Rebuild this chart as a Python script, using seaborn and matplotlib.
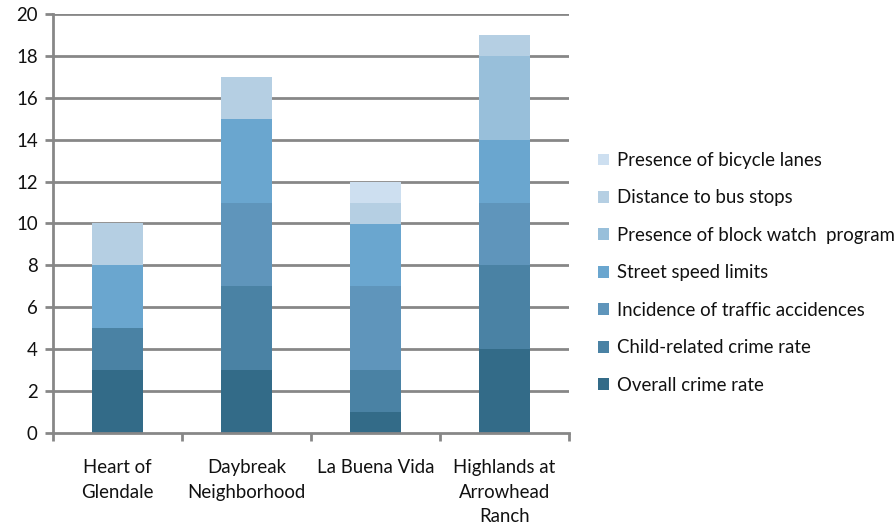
import matplotlib
matplotlib.use("Agg")
import matplotlib.pyplot as plt
from matplotlib.patches import Patch
import numpy as np
import pandas as pd
import seaborn as sns

# Neighborhoods compared
neighborhoods = ["Heart of\nGlendale", "Daybreak\nNeighborhood", "La Buena Vida",
                 "Highlands at\nArrowhead\nRanch"]

# Score contributed by each factor (stacked bottom to top)
overall_crime = [3, 3, 1, 4]
child_crime = [2, 4, 2, 4]
traffic_accidents = [0, 4, 4, 3]
speed_limits = [3, 4, 3, 3]
block_watch = [0, 0, 0, 4]
bus_stops = [2, 2, 1, 1]
bicycle_lanes = [0, 0, 1, 0]

series_names = ["Overall crime rate", "Child-related crime rate",
                "Incidence of traffic accidences", "Street speed limits",
                "Presence of block watch  program", "Distance to bus stops",
                "Presence of bicycle lanes"]
series_values = [overall_crime, child_crime, traffic_accidents, speed_limits,
                 block_watch, bus_stops, bicycle_lanes]
colors = ["#336b88", "#4a82a4", "#5f95bb", "#6aa6cf", "#98bfda", "#b5cfe3", "#cddff0"]

sns.set_style("white")
plt.rcParams["font.family"] = ["Lato", "DejaVu Sans"]

FS = 13.4
fig = plt.figure(figsize=(8.96, 5.27), dpi=100)
ax = fig.add_axes([53 / 896, 1 - 433 / 527, (569 - 53) / 896, (433 - 14) / 527])

grid_color = "#878787"
for y in range(2, 21, 2):
    ax.axhline(y, color=grid_color, lw=2.0, zorder=0)

bottom = np.zeros(len(neighborhoods))
for name, vals, col in zip(series_names, series_values, colors):
    df = pd.DataFrame({"neighborhood": neighborhoods, "value": vals})
    sns.barplot(data=df, x="neighborhood", y="value", bottom=bottom, color=col,
                width=0.4, linewidth=0, saturation=1, ax=ax, zorder=2)
    bottom = bottom + np.array(vals)

ax.set_xlim(-0.5, 3.5)
ax.set_ylim(0, 20)
ax.set_yticks(range(0, 21, 2))
ax.set_xlabel("")
ax.set_ylabel("")

for side in ["top", "right"]:
    ax.spines[side].set_visible(False)
for side in ["left", "bottom"]:
    ax.spines[side].set_color(grid_color)
    ax.spines[side].set_linewidth(2.0)
    ax.spines[side].set_zorder(3)

ax.tick_params(axis="y", which="major", direction="out", length=6, width=2,
               color=grid_color, labelsize=FS, labelcolor="#111111", pad=5, left=True)
ax.tick_params(axis="x", which="major", length=0, labelsize=FS,
               labelcolor="#111111", pad=19)
ax.set_xticks(range(4))
ax.set_xticklabels(neighborhoods, linespacing=1.52)
ax.set_xticks([-0.5, 0.5, 1.5, 2.5, 3.5], minor=True)
ax.tick_params(axis="x", which="minor", direction="out", length=6, width=2,
               color=grid_color, bottom=True)

handles = [Patch(facecolor=c, edgecolor="none") for c in colors][::-1]
labels = series_names[::-1]
fig.legend(handles, labels, loc="upper left", bbox_to_anchor=(598 / 896, 1 - 152 / 527),
           frameon=False, fontsize=FS, handlelength=0.6, handleheight=0.6,
           handletextpad=0.42, labelspacing=1.1, borderaxespad=0, borderpad=0,
           labelcolor="#111111")

fig.savefig("out.png", dpi=100, facecolor="white")
